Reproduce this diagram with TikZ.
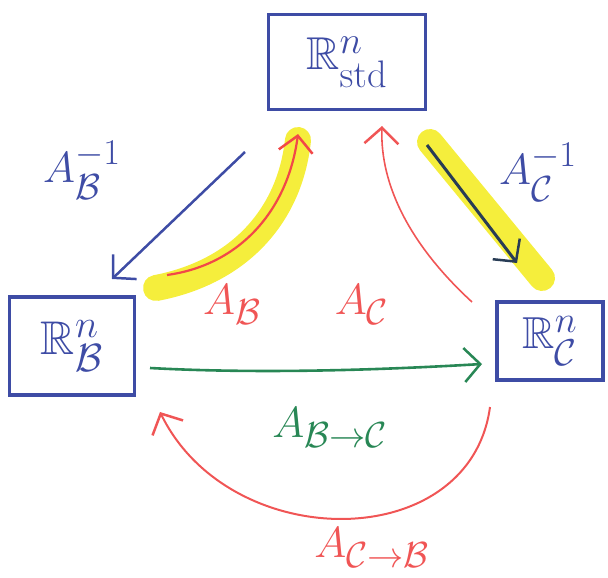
\documentclass[tikz,border=0pt]{standalone}
\usepackage{graphicx}
\usepackage{amssymb}
\usetikzlibrary{arrows.meta}
\definecolor{bx}{RGB}{62,76,165}
\definecolor{rd}{RGB}{240,85,85}
\definecolor{gn}{RGB}{40,135,85}
\definecolor{yl}{RGB}{245,238,60}
\definecolor{dk}{RGB}{40,60,85}
\newcommand{\bigtxt}[2]{\scalebox{#1}{\Huge #2}}
\tikzset{
  space/.style={draw=bx, line width=3.5pt, minimum width=#1, inner sep=0pt, text=bx},
  lbl/.style={inner sep=0pt},
  hl/.style={draw=yl, line width=26pt, line cap=round},
  barb/.style={-{Straight Barb[length=16pt,width=34pt,line width=2.5pt]}}
}
\begin{document}
\begin{tikzpicture}[x=1pt,y=-1pt]
\useasboundingbox (0,0) rectangle (608,578);
% boxes
\node[space=157pt, minimum height=95pt] (std) at (347,62) {\bigtxt{1.85}{$\mathbb{R}^n_{\mathrm{std}}$}};
\node[space=125pt, minimum height=98pt] (B) at (72,346) {\bigtxt{1.9}{$\mathbb{R}^n_{\mathcal{B}}$}};
\node[space=106pt, minimum height=78pt] (C) at (550,341) {\bigtxt{1.8}{$\mathbb{R}^n_{\mathcal{C}}$}};
% anchor coordinates
\coordinate (b1) at (245,152);
\coordinate (b2) at (112,279);
\coordinate (r1) at (167,275);
\coordinate (r2) at (298,134);
\coordinate (c1) at (427,145);
\coordinate (c2) at (517,263);
\coordinate (s1) at (472,302);
\coordinate (s2) at (382,126);
\coordinate (g1) at (150,368);
\coordinate (g2) at (482,364);
\coordinate (e1) at (490,407);
\coordinate (e2) at (160,412);
% highlights
\draw[hl] (156,288) .. controls (240,272) and (290,215) .. (298,140);
\draw[hl] (430,142) -- (542,278);
% arrows
\draw[barb, draw=bx, line width=2.5pt] (b1) -- (b2);
\draw[barb, draw=rd!85!red, line width=2.2pt] (r1) .. controls (240,265) and (288,210) .. (r2);
\draw[barb, draw=dk, line width=3pt] (c1) -- (c2);
\draw[barb, draw=rd, line width=1.6pt] (s1) .. controls (410,245) and (380,185) .. (s2);
\draw[barb, draw=gn, line width=2.6pt] (g1) .. controls (260,374) and (380,370) .. (g2);
\draw[barb, draw=rd, line width=2pt] (e1) .. controls (470,555) and (230,555) .. (e2);
% labels
\node[lbl, text=bx] (lBi) at (82,170) {\bigtxt{1.75}{$A_{\mathcal{B}}^{-1}$}};
\node[lbl, text=bx] (lCi) at (538,172) {\bigtxt{1.75}{$A_{\mathcal{C}}^{-1}$}};
\node[lbl, text=rd] (lB) at (232,305) {\bigtxt{1.75}{$A_{\mathcal{B}}$}};
\node[lbl, text=rd] (lC) at (362,305) {\bigtxt{1.75}{$A_{\mathcal{C}}$}};
\node[lbl, text=gn] (lBC) at (330,428) {\bigtxt{1.75}{$A_{\mathcal{B}\to\mathcal{C}}$}};
\node[lbl, text=rd] (lCB) at (372,548) {\bigtxt{1.75}{$A_{\mathcal{C}\to\mathcal{B}}$}};
\end{tikzpicture}
\end{document}
